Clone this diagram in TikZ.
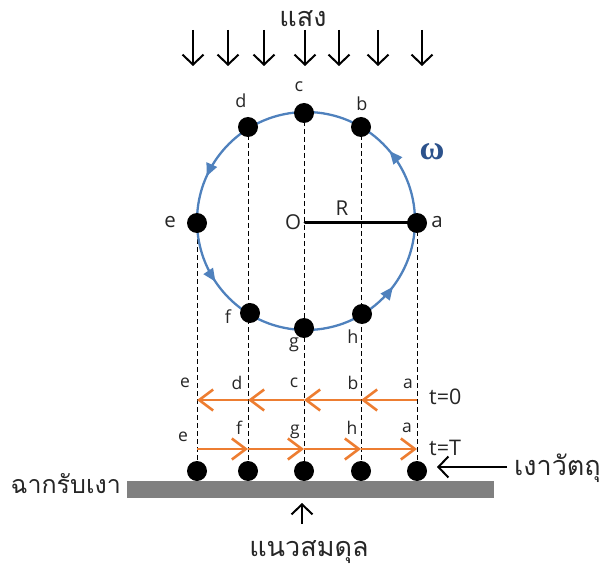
\documentclass[tikz,border=0pt]{standalone}
\usepackage{fontspec}
\setmainfont{Open Sans}
\newfontfamily\thai[Script=Thai]{Loma}
\newfontfamily\omegafont{Liberation Serif}
\usetikzlibrary{arrows.meta,decorations.markings}
\definecolor{cblue}{RGB}{79,129,189}
\definecolor{corange}{RGB}{237,125,49}
\definecolor{cdark}{RGB}{44,82,140}
\definecolor{cgray}{RGB}{128,128,128}
\begin{document}
\begin{tikzpicture}[x=1pt,y=-1pt,
  dot/.style={circle,fill=black,inner sep=0pt,minimum size=20pt},
  lbl/.style={font=\fontsize{18}{18}\selectfont,inner sep=0pt,text=black!85},
  biglbl/.style={font=\fontsize{20.5}{20.5}\selectfont,inner sep=0pt,text=black!85},
  rowlbl/.style={font=\fontsize{17.5}{17.5}\selectfont,inner sep=0pt,text=black!85},
  tlbl/.style={font=\fontsize{21.5}{21.5}\selectfont,inner sep=0pt,anchor=west,text=black!85},
  thaitxt/.style={font=\thai\fontsize{27}{27}\selectfont,inner sep=0pt,text=black!85},
  blackarrow/.style={line width=2pt,-{Straight Barb[length=10pt,width=21pt]}},
  orangearrow/.style={corange,line width=2.6pt,-{Straight Barb[length=14pt,width=21pt]}},
  dashline/.style={line width=0.9pt,dash pattern=on 5pt off 3pt},
]
\useasboundingbox (0,0) rectangle (605,572);

% light arrows
\node[thaitxt] (light) at (303,19) {แสง};
\foreach \x [count=\i] in {193,228,264,305,339,378,422} {
  \coordinate (L\i t) at (\x,30);
  \coordinate (L\i h) at (\x,66);
  \draw[blackarrow] (L\i t) -- (L\i h);
}

% points on circle
\coordinate (pa) at (417,223);
\coordinate (pb) at (361,127);
\coordinate (pc) at (304,113);
\coordinate (pd) at (248,127);
\coordinate (pe) at (197,223);
\coordinate (pf) at (250,313);
\coordinate (pg) at (304,328);
\coordinate (ph) at (362,314);
\coordinate (O) at (305,223);

% shadows
\coordinate (sa) at (417,471);
\coordinate (sb) at (361,471);
\coordinate (sc) at (304,471);
\coordinate (sd) at (248,471);
\coordinate (se) at (197,471);

% dashed projection lines
\draw[dashline] (pe) -- (se);
\draw[dashline] (pd) -- (sd);
\draw[dashline] (pc) -- (sc);
\draw[dashline] (pb) -- (sb);
\draw[dashline] (pa) -- (sa);

% circle
\draw[cblue,line width=2.3pt,postaction={decorate},
  decoration={markings,
    mark=at position 0.111 with {\arrow{Triangle[length=13pt,width=11pt]}},
    mark=at position 0.433 with {\arrow{Triangle[length=13pt,width=11pt]}},
    mark=at position 0.594 with {\arrow{Triangle[length=13pt,width=11pt]}},
    mark=at position 0.897 with {\arrow{Triangle[length=13pt,width=11pt]}}}]
  (415,221) arc[start angle=0,end angle=-360,radius=109];

% radius
\draw[line width=3pt,line cap=round] (O) -- (pa);

% dots on circle
\foreach \p in {a,b,c,d,e,f,g,h} { \node[dot] (d\p) at (p\p) {}; }

% labels on circle
\node[biglbl] (la) at (437,222) {a};
\node[lbl] (lb) at (362,104) {b};
\node[lbl] (lc) at (299,87) {c};
\node[lbl] (ld) at (241,101) {d};
\node[biglbl] (le) at (170,222) {e};
\node[lbl] (lf) at (228,317) {f};
\node[lbl] (lg) at (294,345) {g};
\node[lbl] (lh) at (353,337) {h};
\node[biglbl] (lO) at (293,222) {O};
\node[biglbl] (lR) at (342,208) {R};
\node[text=cdark,inner sep=0pt,font=\omegafont\bfseries\fontsize{34}{34}\selectfont] (om) at (432,152) {ω};

% t=0 row
\coordinate (za) at (417,400);
\coordinate (zb) at (361,400);
\coordinate (zc) at (304,400);
\coordinate (zd) at (248,400);
\coordinate (ze) at (197,400);
\draw[orangearrow] (za) -- (zb);
\draw[orangearrow] (zb) -- (zc);
\draw[orangearrow] (zc) -- (zd);
\draw[orangearrow] (zd) -- (ze);
\node[rowlbl] (zla) at (408,384) {a};
\node[rowlbl] (zlb) at (353,383) {b};
\node[rowlbl] (zlc) at (294,383) {c};
\node[rowlbl] (zld) at (237,383) {d};
\node[rowlbl] (zle) at (185,383) {e};
\node[tlbl] (t0) at (429,397) {t=0};

% t=T row
\coordinate (ya) at (417,449);
\coordinate (yh) at (361,449);
\coordinate (yg) at (304,449);
\coordinate (yf) at (248,449);
\coordinate (ye) at (197,449);
\draw[orangearrow] (ye) -- (yf);
\draw[orangearrow] (yf) -- (yg);
\draw[orangearrow] (yg) -- (yh);
\draw[orangearrow] (yh) -- (ya);
\node[rowlbl] (yla) at (407,428) {a};
\node[rowlbl] (ylh) at (352,428) {h};
\node[rowlbl] (ylg) at (295,432) {g};
\node[rowlbl] (ylf) at (239,428) {f};
\node[rowlbl] (yle) at (183,437) {e};
\node[tlbl] (tT) at (429,448) {t=T};

% screen
\node[fill=cgray,minimum width=367pt,minimum height=17pt,inner sep=0pt] (screen) at (310.5,489.5) {};
\node[thaitxt,font=\thai\fontsize{25}{25}\selectfont,anchor=east] (screenlbl) at (121,484) {ฉากรับเงา};

% shadow dots
\foreach \p in {a,b,c,d,e} { \node[dot] (s\p d) at (s\p) {}; }

% shadow label
\node[thaitxt,anchor=west] (objlbl) at (514,468) {เงาวัตถุ};
\coordinate (objtip) at (437,467);
\coordinate (objtail) at (507,467);
\draw[blackarrow] (objtail) -- (objtip);

% equilibrium
\node[thaitxt] (eqlbl) at (309,552) {แนวสมดุล};
\coordinate (eqtail) at (302,524);
\coordinate (eqtip) at (302,503);
\draw[blackarrow] (eqtail) -- (eqtip);
\end{tikzpicture}
\end{document}
